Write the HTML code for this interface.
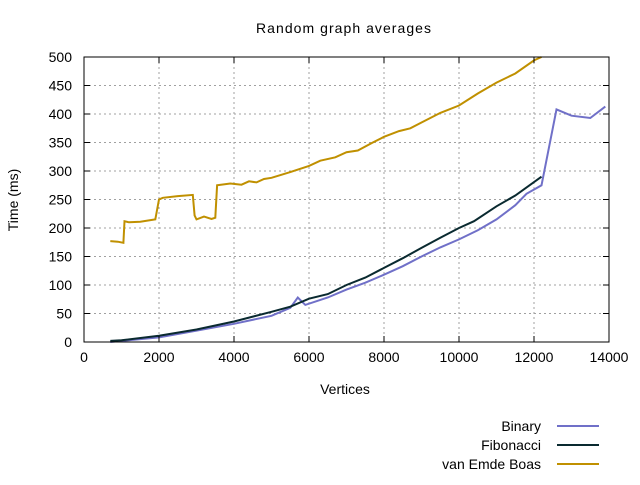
<!DOCTYPE html>
<html><head><meta charset="utf-8"><style>
body{margin:0;background:#fff;}
svg text{font-family:"Liberation Sans",sans-serif;font-size:14px;fill:#000;}
</style></head><body>
<svg width="640" height="480" xmlns="http://www.w3.org/2000/svg">
<rect width="640" height="480" fill="#fff"/>
<g id="grid"></g>
<g id="plot"></g>
<g id="axes"></g>
<text x="256" y="33" textLength="175" lengthAdjust="spacing">Random graph averages</text>
<text x="345" y="394" text-anchor="middle">Vertices</text>
<text x="18" y="200" text-anchor="middle" transform="rotate(-90 18 200)">Time (ms)</text>
<g id="legend"></g>
</svg>
<script>
const xTicks=[0,2000,4000,6000,8000,10000,12000,14000];
const yTicks=[0,50,100,150,200,250,300,350,400,450,500];
const binX=[700,1000,2000,3000,4000,5000,5500,5700,5900,6500,7000,7500,8000,8500,9000,9500,10000,10500,11000,11500,11800,12200,12600,13000,13500,13900];
const binY=[0,2,8,20,32,46,60,78,65,78,92,104,118,133,150,166,180,196,215,240,260,275,408,397,393,413];
const fibX=[700,1000,2000,3000,4000,5000,5500,6000,6500,7000,7500,8000,8500,9000,9500,10000,10400,11000,11500,12200];
const fibY=[2,3,11,22,36,53,62,76,84,100,113,130,147,165,183,200,212,238,257,290];
const vebX=[700,900,1050,1080,1200,1500,1900,2000,2100,2500,2900,2950,3000,3200,3400,3500,3550,3900,4200,4400,4600,4800,5000,5500,6000,6300,6700,7000,7300,7700,8000,8400,8700,9000,9500,10000,10500,11000,11500,12000,12200];
const vebY=[177,176,174,212,210,211,215,250,253,256,258,222,215,220,216,218,275,278,276,282,280,286,288,298,309,318,324,333,336,350,360,370,375,385,402,415,436,455,471,494,500];
const X0=84,X1=609,Y0=342,Y1=57;
const sx=v=>X0+(v/14000)*(X1-X0);
const sy=v=>Y0-(v/500)*(Y0-Y1);
const NS='http://www.w3.org/2000/svg';
function mk(tag,attrs,parent){const e=document.createElementNS(NS,tag);for(const k in attrs)e.setAttribute(k,attrs[k]);parent.appendChild(e);return e;}
const grid=document.getElementById('grid'),axes=document.getElementById('axes'),plot=document.getElementById('plot'),legend=document.getElementById('legend');
xTicks.forEach(t=>{const x=sx(t);
 if(t>0&&t<14000){const g=mk('line',{x1:x,x2:x,y1:Y1,y2:Y0,stroke:'#a0a0a0','stroke-dasharray':'2,3'},grid);}
 const tk=mk('path',{d:`M${x},${Y0}v-6M${x},${Y1}v6`,stroke:'#000'},axes);
 const l=mk('text',{x:x,y:Y0+20,'text-anchor':'middle'},axes);l.textContent=t;});
yTicks.forEach(t=>{const y=sy(t);
 if(t>0&&t<500){const g=mk('line',{x1:X0,x2:X1,y1:y,y2:y,stroke:'#a0a0a0','stroke-dasharray':'2,3'},grid);}
 const tk=mk('path',{d:`M${X0},${y}h6M${X1},${y}h-6`,stroke:'#000'},axes);
 const l=mk('text',{x:X0-12,y:y+5,'text-anchor':'end'},axes);l.textContent=t;});
const fr=mk('rect',{x:X0,y:Y1,width:X1-X0,height:Y0-Y1,fill:'none',stroke:'#000'},axes);


const series=[['Binary',binX,binY,'#7070c8','binary-line'],['Fibonacci',fibX,fibY,'#0a2a30','fibonacci-line'],['van Emde Boas',vebX,vebY,'#c09000','veb-line']];
series.forEach((s,i)=>{
 const pts=s[1].map((v,j)=>sx(v).toFixed(1)+','+sy(s[2][j]).toFixed(1)).join(' ');
 const p=mk('polyline',{points:pts,fill:'none',stroke:s[3],'stroke-width':2},plot);
 
 
 const ly=426+i*19;
 const t=mk('text',{x:541,y:ly+5,'text-anchor':'end'},legend);t.textContent=s[0];
 
 
 const l=mk('line',{x1:557,x2:599,y1:ly,y2:ly,stroke:s[3],'stroke-width':2},legend);
 
 
});
</script>
</body></html>
